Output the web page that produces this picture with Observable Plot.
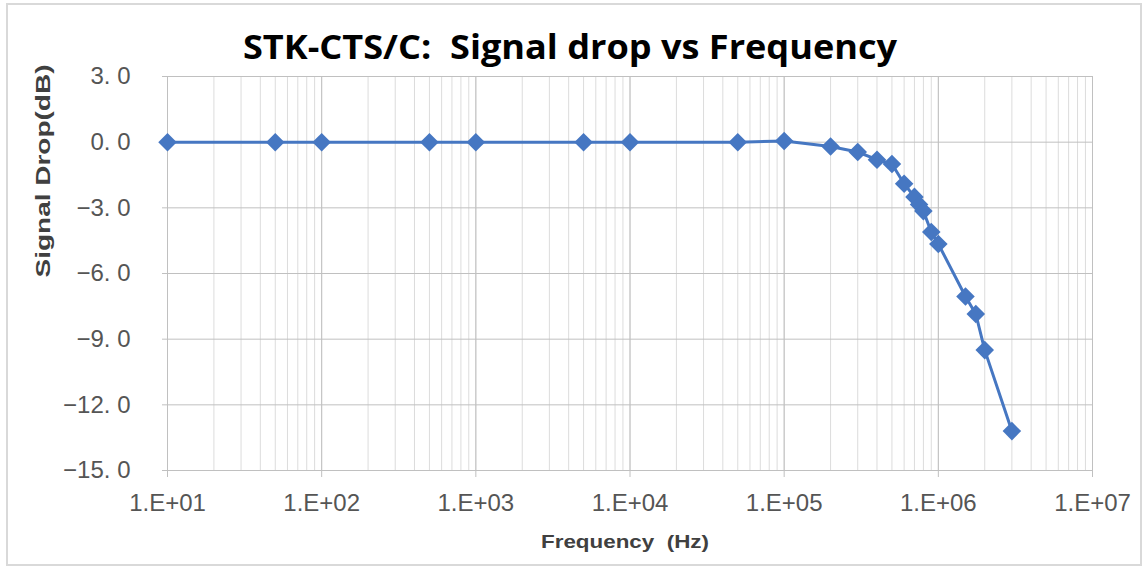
<!DOCTYPE html>
<html><head><meta charset="utf-8">
<script src="https://cdn.jsdelivr.net/npm/d3@7"></script>
<script src="https://cdn.jsdelivr.net/npm/@observablehq/plot@0.6"></script>
<style>
html,body{margin:0;padding:0;background:#fff;}
#wrap{position:relative;width:1147px;height:569px;overflow:hidden;}
#frame{position:absolute;left:6px;top:3px;width:1132px;height:559px;border:2px solid #d9d9d9;pointer-events:none;}
</style></head><body><div id="wrap"><div id="frame"></div></div>
<script>
const title = "STK-CTS/C:  Signal drop vs Frequency";
const xLabel = "Frequency  (Hz)";
const yLabel = "Signal Drop(dB)";
const frequency = [10, 50, 100, 500, 1000, 5000, 10000, 50000, 100000, 200000, 300000, 400000, 500000, 600000, 700000, 750000, 800000, 900000, 1000000, 1500000, 1750000, 2000000, 3000000];
const signalDrop = [0, 0, 0, 0, 0, 0, 0, 0, 0.05, -0.2, -0.45, -0.8, -1.0, -1.9, -2.5, -2.85, -3.15, -4.1, -4.65, -7.05, -7.85, -9.5, -13.2];
const yTicks = [3, 0, -3, -6, -9, -12, -15];
const xTicks = [1e1, 1e2, 1e3, 1e4, 1e5, 1e6, 1e7];
const xTickLabels = ["1.E+01", "1.E+02", "1.E+03", "1.E+04", "1.E+05", "1.E+06", "1.E+07"];

const data = frequency.map((f, i) => ({f, d: signalDrop[i]}));
const minorTicks = d3.scaleLog().domain([xTicks[0], xTicks[xTicks.length - 1]]).ticks();
const blue = "#4677c2";
const diamond = {
  draw(ctx, size) {
    const h = Math.sqrt(size / 2);
    ctx.moveTo(0, -h); ctx.lineTo(h, 0); ctx.lineTo(0, h); ctx.lineTo(-h, 0); ctx.closePath();
  }
};
const yFmt = v => {
  const s = Math.abs(v).toFixed(1).split(".");
  return (v < 0 ? "\u2212" : "") + s[0] + ". " + s[1];
};

const chart = Plot.plot({
  width: 1147, height: 569,
  marginLeft: 167, marginRight: 55, marginTop: 76, marginBottom: 99,
  style: {fontFamily: "'Liberation Sans', Arial, sans-serif", background: "transparent"},
  x: {type: "log", domain: [xTicks[0], xTicks[xTicks.length - 1]]},
  y: {domain: [-15, 3]},
  marks: [
    Plot.ruleX(minorTicks, {stroke: "#dcdcdc", strokeWidth: 1}),
    Plot.ruleX(xTicks, {stroke: "#c0c0c0", strokeWidth: 1}),
    Plot.ruleY(yTicks, {stroke: "#c0c0c0", strokeWidth: 1}),
    Plot.axisY({ticks: yTicks, tickSize: 5, tickPadding: 32, tickFormat: yFmt, fontSize: 24, stroke: "#c0c0c0", fill: "#555555", label: null}),
    Plot.axisX({ticks: xTicks, tickSize: 7, tickPadding: 16, tickFormat: d => xTickLabels[xTicks.indexOf(d)], fontSize: 24, stroke: "#c0c0c0", fill: "#555555", label: null}),
    Plot.line(data, {x: "f", y: "d", stroke: blue, strokeWidth: 3}),
    Plot.dot(data, {x: "f", y: "d", symbol: diamond, r: 7.4, fill: blue, stroke: "none"}),
    Plot.text([title], {text: d => d, frameAnchor: "top", dy: -28, dx: -60, lineAnchor: "middle", fontSize: 34, fontWeight: "bold", fontFamily: "'Open Sans', sans-serif", fill: "#000"}),
    Plot.text([xLabel], {text: d => d, frameAnchor: "bottom", dy: 71, dx: -5, lineAnchor: "middle", fontSize: 19, fontWeight: "bold", fill: "#404040"}),
    Plot.text([yLabel], {text: d => d, frameAnchor: "left", dx: -124, dy: 4, rotate: -90, lineAnchor: "middle", fontSize: 20, fontWeight: "bold", fill: "#404040"})
  ]
});
document.getElementById("wrap").prepend(chart);
d3.select(chart).selectAll("text").each(function() {
  const t = this.textContent;
  const len = t === title ? 654 : t === xLabel ? 168 : t === yLabel ? 213 : null;
  if (len) d3.select(this).attr("textLength", len).attr("lengthAdjust", "spacingAndGlyphs");
});
</script></body></html>
